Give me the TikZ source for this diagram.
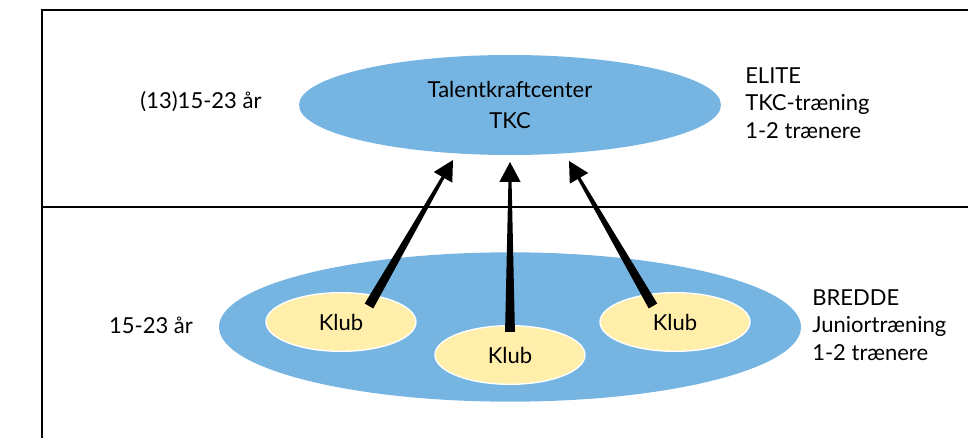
\documentclass[tikz,border=0pt]{standalone}
\usepackage{fontspec}
\setmainfont{Lato}
\usetikzlibrary{calc,positioning,shapes.geometric}
\definecolor{tkcblue}{RGB}{118,181,226}
\definecolor{klubgul}{RGB}{255,239,170}
\tikzstyle{tkcbox} = [ellipse, fill=tkcblue, minimum width=316.5pt, minimum height=75pt, inner sep=0pt, align=center, font=\fontsize{16.5}{23}\selectfont]
\tikzstyle{breddebox} = [ellipse, fill=tkcblue, minimum width=436.5pt, minimum height=112pt, inner sep=0pt]
\tikzstyle{klub} = [ellipse, fill=klubgul, draw=white, line width=1pt, minimum width=112.5pt, minimum height=44pt, inner sep=0pt, font=\fontsize{16.5}{20}\selectfont]
\tikzstyle{txt} = [align=left, inner sep=0pt, font=\fontsize{16.5}{20.5}\selectfont]
\tikzstyle{ramme} = [line width=1.1pt, black]
% tapered arrow: tail #1, tip #2
\newcommand{\klubpil}[2]{%
  \coordinate (hals) at ($(#2)!15pt!(#1)$);
  \fill ($(#1)!3.7pt!90:(#2)$) -- ($(hals)!1.2pt!90:(#2)$) -- ($(hals)!8pt!90:(#2)$)
    -- (#2) -- ($(hals)!8pt!-90:(#2)$) -- ($(hals)!1.2pt!-90:(#2)$)
    -- ($(#1)!3.7pt!-90:(#2)$) -- cycle;}

\begin{document}
\begin{tikzpicture}[x=0.75pt,y=-0.75pt]
\useasboundingbox (0,0) rectangle (968,438);
\draw [ramme] (968,10) -- (42,10) -- (42,438);
\draw [ramme] (42,207) -- (968,207);

 \node (tkc) [tkcbox] at (510,105) {Talentkraftcenter\\TKC};
 \node (alder1) [txt] at (201,102) {(13)15-23 år};
 \node (elite) [txt,anchor=west] at (745,103) {ELITE\\TKC-træning\\1-2 trænere};

 \node (bredde) [breddebox] at (510,327) {};
 \node (klubA) [klub] at (341,322) {Klub};
 \node (klubB) [klub] at (510,355) {Klub};
 \node (klubC) [klub] at (675,322) {Klub};
 \node (alder2) [txt] at (151,325) {15-23 år};
 \node (breddetxt) [txt,anchor=west] at (812,325) {BREDDE\\Juniortræning\\1-2 trænere};

\coordinate (fraA) at ($(klubA)+(28,-16)$);
\coordinate (fraB) at ($(klubB)+(0,-23)$);
\coordinate (fraC) at ($(klubC)+(-22,-16)$);
\coordinate (tilA) at ($(tkc)+(-57,55)$);
\coordinate (tilB) at ($(tkc)+(0,57)$);
\coordinate (tilC) at ($(tkc)+(59,56)$);
\klubpil{fraA}{tilA}
\klubpil{fraB}{tilB}
\klubpil{fraC}{tilC}
  \end{tikzpicture}
\end{document}
